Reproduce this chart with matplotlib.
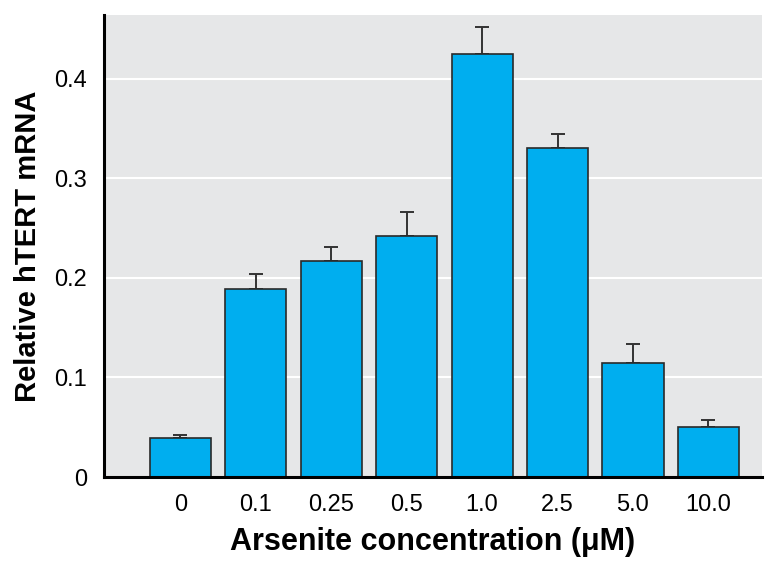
import matplotlib
matplotlib.use("Agg")
import matplotlib.pyplot as plt
from matplotlib import font_manager
import numpy as np

categories = ["0", "0.1", "0.25", "0.5", "1.0", "2.5", "5.0", "10.0"]
values = [0.039, 0.189, 0.217, 0.242, 0.425, 0.330, 0.115, 0.050]
err_upper = [0.003, 0.015, 0.014, 0.024, 0.027, 0.014, 0.019, 0.007]
yticks = [0, 0.1, 0.2, 0.3, 0.4]
ytick_labels = ["0", "0.1", "0.2", "0.3", "0.4"]

names = {f.name for f in font_manager.fontManager.ttflist}
fam = "Liberation Sans Narrow" if "Liberation Sans Narrow" in names else "Liberation Sans"
plt.rcParams['font.family'] = [fam, 'DejaVu Sans']

fig = plt.figure(figsize=(7.74, 5.73), dpi=100)
ax = fig.add_axes([0.1344, 0.1675, 0.9845 - 0.1344, 0.9738 - 0.1675])
ax.set_facecolor("#e6e7e8")

x = np.arange(len(categories))
ax.set_axisbelow(True)
ax.yaxis.grid(True, color="white", linewidth=1.5)
ax.bar(x, values, width=0.81, color="#00aeef", edgecolor="#2a2a2a", linewidth=1.2, zorder=2)
ax.errorbar(x, values, yerr=[np.zeros(len(values)), err_upper], fmt="none",
            ecolor="#333333", elinewidth=1.4, capsize=5, capthick=1.4, zorder=1)

ax.set_xlim(-1.01, 7.71)
ax.set_ylim(0, 0.464)
ax.set_yticks(yticks)
ax.set_yticklabels(ytick_labels)
ax.set_xticks(x)
ax.set_xticklabels(categories)
ax.tick_params(axis="both", length=0, labelsize=17)
ax.tick_params(axis="y", pad=12)
ax.tick_params(axis="x", pad=12)

for s in ["top", "right"]:
    ax.spines[s].set_visible(False)
ax.spines["left"].set_linewidth(2.2)
ax.spines["bottom"].set_linewidth(2.2)

ax.set_xlabel("Arsenite concentration (μM)", fontsize=22, fontweight="bold", labelpad=8)
ax.set_ylabel("Relative hTERT mRNA", fontsize=21, fontweight="bold", labelpad=9)

fig.savefig("out.png", dpi=100)
